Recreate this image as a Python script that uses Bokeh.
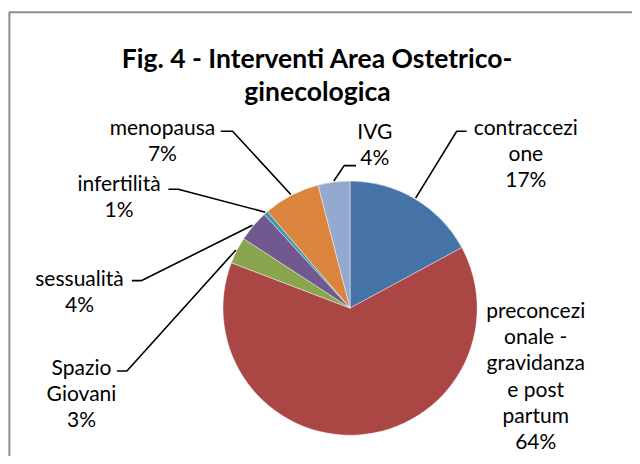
import math
from bokeh.plotting import figure
from bokeh.models import Range1d, ColumnDataSource
from bokeh.core.properties import value
from bokeh.embed import file_html
from bokeh.resources import INLINE

# ---- data ----
categories = ["contraccezione", "preconcezionale - gravidanza e post partum",
              "Spazio Giovani", "sessualità", "infertilità", "menopausa", "IVG"]
shares = [17.1, 63.7, 3.4, 4.0, 0.55, 7.2, 4.05]
label_lines = [["contraccezi", "one"],
               ["preconcezi", "onale -", "gravidanza", "e post", "partum"],
               ["Spazio", "Giovani"],
               ["sessualità"],
               ["infertilità"],
               ["menopausa"],
               ["IVG"]]
colors = ["#4572A7", "#AA4643", "#89A54E", "#71588F", "#4198AF", "#DB843D", "#93A9CF"]
title_lines = ["Fig. 4 - Interventi Area Ostetrico-", "ginecologica"]

FONT = "Lato"
W, H = 632, 456
SX, SY = W / 640.0, H / 464.0
S = (SX + SY) / 2
CXF, CYF = 354 * SX, 313 * SY  # pie centre in figure pixels
R = 129 * S


def px(x):  # reference-pixel x -> data
    return x * SX - CXF


def py(y):  # reference-pixel y -> data
    return CYF - y * SY


p = figure(width=W, height=H, output_backend="svg", toolbar_location=None,
           x_range=Range1d(-CXF, W - CXF), y_range=Range1d(CYF - H, CYF),
           min_border=0, x_axis_location=None, y_axis_location=None)
p.grid.visible = False
p.outline_line_color = None
p.background_fill_color = "white"
p.border_fill_color = "white"

# chart-area border (cropped on right and bottom)
p.line([px(9), px(9), px(700)], [py(480), py(12), py(12)], line_color="#8C8C8C", line_width=2)

# pie
total = sum(shares)
starts, ends, mids = [], [], []
cum = 0.0
for s in shares:
    a0 = math.pi / 2 - 2 * math.pi * cum / total
    cum += s
    a1 = math.pi / 2 - 2 * math.pi * cum / total
    starts.append(a0)
    ends.append(a1)
    mids.append((a0 + a1) / 2)
src = ColumnDataSource(dict(start=starts, end=ends, color=colors))
p.wedge(x=0, y=0, radius=R, start_angle="start", end_angle="end", direction="clock",
        fill_color="color", line_color="white", line_width=0.6, line_alpha=0.7, source=src)

# label layout (reference pixels): centre x, first-line centre y, elbow points
layout = {
    0: dict(x=532, y=128, elbow=[(472, 133), (462, 133)]),
    1: dict(x=542, y=314, elbow=None),
    2: dict(x=82, y=372, elbow=[(118, 377), (128, 377)]),
    3: dict(x=80, y=282, elbow=[(133, 285), (143, 285)]),
    4: dict(x=120, y=185, elbow=[(170, 192), (180, 192)]),
    5: dict(x=164, y=128, elbow=[(223, 133), (235, 133)]),
    6: dict(x=379, y=132, elbow=[(360, 168), (348, 168)]),
}
LH = 26.8
tx, ty, tt = [], [], []
for i, lines in enumerate(label_lines):
    L = layout[i]
    pct = "%d%%" % round(100 * shares[i] / total)
    for j, t in enumerate(lines + [pct]):
        tx.append(px(L["x"]))
        ty.append(py(L["y"] + j * LH))
        tt.append(t)
    if L["elbow"]:
        (x1, y1), (x2, y2) = L["elbow"]
        ex = (R + 1) * math.cos(mids[i])
        ey = (R + 1) * math.sin(mids[i])
        p.line([px(x1), px(x2), ex], [py(y1), py(y2), ey], line_color="black", line_width=1.6)

p.text(x=tx, y=ty, text=tt, text_font=value(FONT), text_font_size="21px",
       text_align="center", text_baseline="middle", text_color="black")

# title
p.text(x=[px(321), px(321)], y=[py(58), py(92)], text=title_lines, text_font=value(FONT),
       text_font_size="26.5px", text_font_style="bold", text_align="center",
       text_baseline="middle", text_color="black")

open("out.html", "w").write(file_html(p, INLINE))
